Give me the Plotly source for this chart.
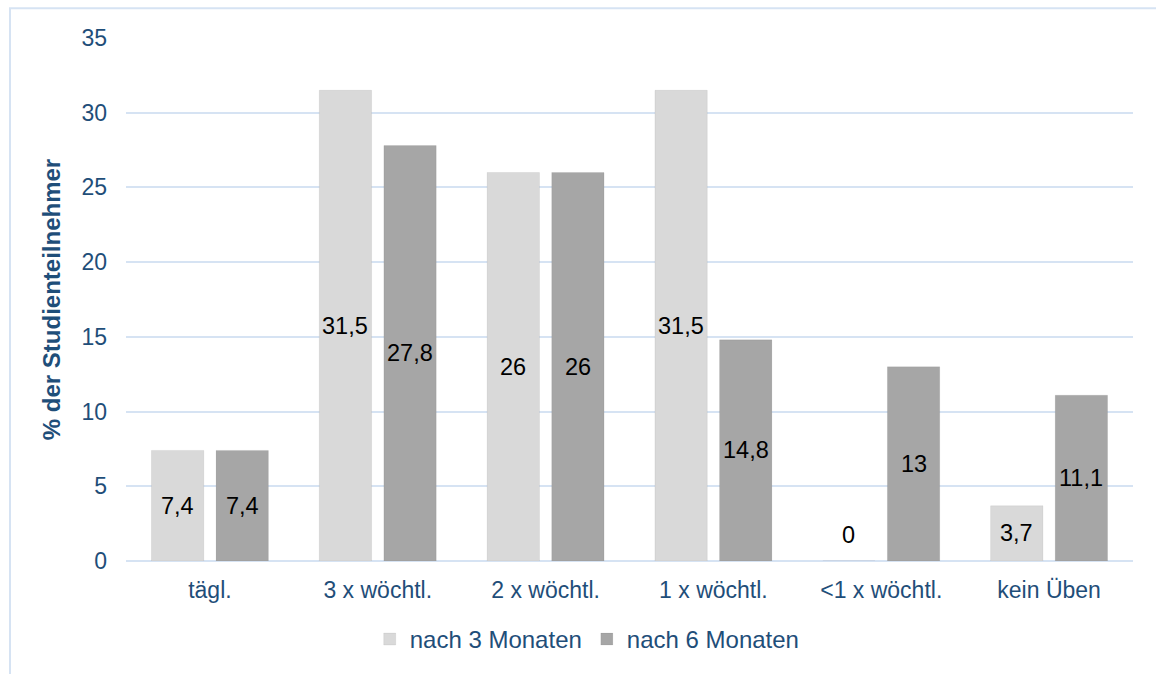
import plotly.graph_objects as go

# Übungshäufigkeit der Studienteilnehmer (Angaben in %)
categories = ["tägl.", "3 x wöchtl.", "2 x wöchtl.", "1 x wöchtl.", "<1 x wöchtl.", "kein Üben"]
series_names = ["nach 3 Monaten", "nach 6 Monaten"]
values_3m = [7.4, 31.5, 26, 31.5, 0, 3.7]
values_6m = [7.4, 27.8, 26, 14.8, 13, 11.1]
y_ticks = [0, 5, 10, 15, 20, 25, 30, 35]

colors = ["#D9D9D9", "#A6A6A6"]
axis_blue = "#1F4E79"
grid_blue = "#D6E3F3"
font_family = "Liberation Sans, Arial, sans-serif"

W, H = 1156, 674
margin = dict(l=126, r=23, t=38, b=110)
plot_w = W - margin["l"] - margin["r"]
plot_h = H - margin["t"] - margin["b"]
bargap, bargroupgap = 0.23, 0.19


def de_num(v):
    s = f"{v:.1f}".rstrip("0").rstrip(".")
    return s.replace(".", ",")


fig = go.Figure()
for name, vals, col in zip(series_names, [values_3m, values_6m], colors):
    fig.add_trace(go.Bar(
        x=categories, y=vals, name=name,
        marker=dict(color=col, line=dict(width=1, color="rgba(0,0,0,0.06)")),
        hoverinfo="x+y",
    ))

# Datenbeschriftungen mittig in den Balken
cat_w = plot_w / len(categories)
slot = (1 - bargap) * cat_w / 2
for i, vals in enumerate([values_3m, values_6m]):
    shift = (i - 0.5) * slot
    for c, v in zip(categories, vals):
        fig.add_annotation(
            x=c, y=v / 2, text=de_num(v), showarrow=False,
            xshift=shift, yshift=26 if v == 0 else 0,
            font=dict(family=font_family, size=23.5, color="#000000"),
        )

# Rahmen um das Diagramm
px2x = lambda px: (px - margin["l"]) / plot_w
px2y = lambda py: (H - margin["b"] - py) / plot_h
fig.add_shape(type="rect", xref="paper", yref="paper",
              x0=px2x(10), x1=px2x(1170), y0=px2y(690), y1=px2y(8),
              line=dict(color=grid_blue, width=2), fillcolor="rgba(0,0,0,0)", layer="below")

fig.update_layout(
    width=W, height=H,
    margin=margin,
    paper_bgcolor="white", plot_bgcolor="white",
    barmode="group", bargap=bargap, bargroupgap=bargroupgap,
    font=dict(family=font_family, size=23, color=axis_blue),
    showlegend=True,
    legend=dict(orientation="h", x=0.458, xanchor="center", y=-0.15, yanchor="middle",
                font=dict(size=24, color=axis_blue), itemwidth=30,
                traceorder="normal", bgcolor="rgba(0,0,0,0)"),
    xaxis=dict(showgrid=False, showline=False, ticks="", ticklabelstandoff=13,
               automargin=False, tickfont=dict(size=23, color=axis_blue)),
    yaxis=dict(range=[0, 35], tickvals=y_ticks, showgrid=True, gridcolor=grid_blue, gridwidth=2,
               zeroline=True, zerolinecolor=grid_blue, zerolinewidth=2, showline=False,
               ticks="", ticklabelstandoff=18, automargin=False,
               tickfont=dict(size=23, color=axis_blue),
               title=dict(text="<b>% der Studienteilnehmer</b>", standoff=14,
                          font=dict(size=24, color=axis_blue))),
)

fig.write_html("out.html")
